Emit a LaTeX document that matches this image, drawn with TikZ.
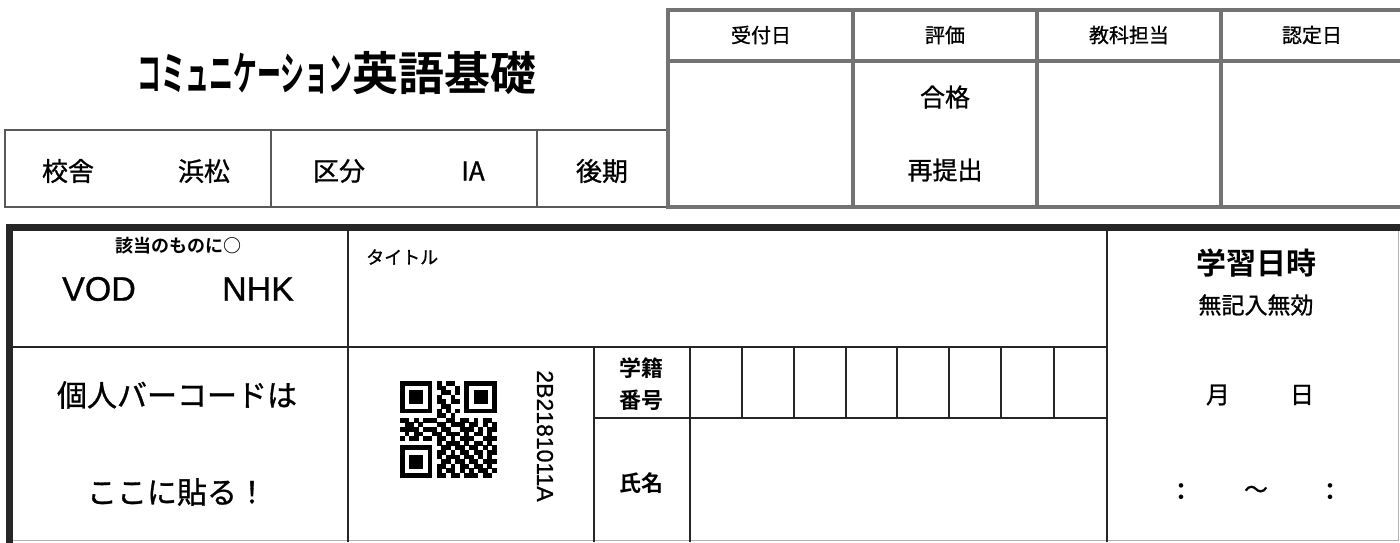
\documentclass[tikz,border=0pt]{standalone}
\usepackage{fontspec}
\usepackage{graphicx}
\setmainfont[FakeBold=0.8]{Liberation Sans}
\newfontfamily\jp[FakeBold=1]{Noto Sans CJK JP}
\newfontfamily\jpb{Noto Sans CJK JP Bold}
\newcommand{\jpfs}[1]{\jp\fontsize{#1}{#1}\selectfont}
\newcommand{\jpbf}[1]{\jpb\fontsize{#1}{#1}\selectfont}
\newcommand{\lafs}[1]{\rmfamily\fontsize{#1}{#1}\selectfont}

\begin{document}
\begin{tikzpicture}[x=1pt,y=-1pt]
    \tikzstyle{frame}=[draw=black!55,line width=3.5pt]
    \tikzstyle{thinframe}=[draw=black!65,line width=1.5pt]
    \tikzstyle{heavy}=[draw=black!85,line width=7pt]
    \tikzstyle{rule}=[draw=black!85,line width=1.6pt]
    \tikzstyle{edge}=[draw=black!30,line width=1pt]
    \tikzstyle{label}=[inner sep=0pt,anchor=center]
    \useasboundingbox (0,0) rectangle (1400,542);
    % Draw the title
    \node[label,font=\jpbf{46}] (title) at (337,73)
        {\scalebox{0.52}[1]{コミュニケーション}英語基礎};
    % Draw the course table
    \draw[thinframe] (5,130) rectangle (668,207);
    \foreach \x in {271, 537} \draw[thinframe] (\x,130) -- (\x,207);
    \node[label,font=\jpfs{26}] (campus) at (68,171) {校舎};
    \node[label,font=\jpfs{26}] (place) at (204,171) {浜松};
    \node[label,font=\jpfs{26}] (kind) at (339,171) {区分};
    \node[label,font=\jpfs{26}] (kindval) at (473,171) {IA};
    \node[label,font=\jpfs{26}] (term) at (602,171) {後期};
    % Draw the office table
    \draw[frame] (1403,10) -- (668,10) -- (668,207) -- (1403,207);
    \draw[frame] (668,61) -- (1403,61);
    \foreach \x in {853, 1037, 1221} \draw[frame] (\x,10) -- (\x,207);
    \node[label,font=\jpfs{20}] (received) at (761,35) {受付日};
    \node[label,font=\jpfs{20}] (grade) at (945,35) {評価};
    \node[label,font=\jpfs{20}] (teacher) at (1129,35) {教科担当};
    \node[label,font=\jpfs{20}] (approved) at (1312,35) {認定日};
    \node[label,font=\jpfs{25}] (pass) at (945,97) {合格};
    \node[label,font=\jpfs{25}] (resubmit) at (945,170) {再提出};
    % Draw the report form
    \draw[edge] (1398,228) -- (1398,540) -- (9,540);
    \draw[heavy] (9,545) -- (9,227) -- (1403,227);
    \draw[rule] (9,347) -- (1107,347);
    \draw[rule] (348,227) -- (348,542);
    \draw[rule] (1107,227) -- (1107,542);
    \draw[rule] (594,347) -- (594,542);
    \draw[rule] (690,347) -- (690,542);
    \draw[rule] (594,418) -- (1107,418);
    \foreach \x in {742, 794, 846, 897, 949, 1001, 1054} \draw[rule] (\x,347) -- (\x,418);
    % Draw the texts of the form
    \node[label,font=\jpbf{18}] (mark) at (178,246) {該当のものに○};
    \node[label,font=\lafs{34}] (vod) at (99,289) {VOD};
    \node[label,font=\lafs{34}] (nhk) at (258,289) {NHK};
    \node[label,font=\jpfs{18},anchor=west] (titlefield) at (366,257) {タイトル};
    \node[label,font=\jpfs{30}] (barcode) at (177,395) {個人バーコードは};
    \node[label,font=\jpfs{30}] (paste) at (177,492) {ここに貼る！};
    \node[label,font=\lafs{23},rotate=-90] (code) at (545,436) {2B2181011A};
    \node[label,font={\jpb\fontsize{22}{32}\selectfont},align=center] (number) at (641,384) {学籍\\番号};
    \node[label,font=\jpbf{22}] (name) at (641,483) {氏名};
    \node[label,font=\jpbf{30}] (datetime) at (1256,263) {学習日時};
    \node[label,font=\jpfs{23}] (invalid) at (1256,305) {無記入無効};
    \node[label,font=\jpfs{24}] (month) at (1218,395) {月};
    \node[label,font=\jpfs{24}] (day) at (1302,395) {日};
    \node[label,font=\jpbf{24}] (start) at (1181,492) {：};
    \node[label,font=\jpfs{24}] (tilde) at (1256,492) {～};
    \node[label,font=\jpbf{24}] (finish) at (1330,492) {：};
    % Draw the QR code
    \foreach \row [count=\r from 0] in {
        {1,1,1,1,1,1,1,0,1,0,1,1,0,0,1,1,1,1,1,1,1},
        {1,0,0,0,0,0,1,0,1,1,0,0,1,0,1,0,0,0,0,0,1},
        {1,0,1,1,1,0,1,0,0,1,1,0,1,0,1,0,1,1,1,0,1},
        {1,0,1,1,1,0,1,0,1,0,0,1,0,0,1,0,1,1,1,0,1},
        {1,0,1,1,1,0,1,0,1,1,0,1,1,0,1,0,1,1,1,0,1},
        {1,0,0,0,0,0,1,0,0,1,1,0,0,0,1,0,0,0,0,0,1},
        {1,1,1,1,1,1,1,0,1,0,1,0,1,0,1,1,1,1,1,1,1},
        {0,0,0,0,0,0,0,0,1,1,0,1,0,0,0,0,0,0,0,0,0},
        {1,1,0,1,0,1,1,1,0,0,1,1,0,1,1,0,1,0,1,1,0},
        {0,1,1,0,1,0,0,0,1,1,0,1,1,1,0,1,1,0,1,0,1},
        {1,1,1,1,0,1,1,1,0,1,1,0,0,1,1,1,0,1,0,1,1},
        {0,1,0,1,1,0,0,1,1,0,1,1,1,0,1,0,1,1,0,1,0},
        {1,0,1,1,0,1,1,0,1,1,0,1,0,1,1,1,0,0,1,1,1},
        {0,0,0,0,0,0,0,0,1,0,1,1,1,0,1,0,1,1,0,1,0},
        {1,1,1,1,1,1,1,0,0,1,1,0,1,1,0,1,1,0,1,0,1},
        {1,0,0,0,0,0,1,0,1,1,0,1,0,1,1,0,1,1,0,1,1},
        {1,0,1,1,1,0,1,0,1,0,1,1,1,0,1,1,0,1,0,1,0},
        {1,0,1,1,1,0,1,0,0,1,1,0,1,1,0,1,1,0,1,1,1},
        {1,0,1,1,1,0,1,0,1,1,0,1,0,1,1,0,1,1,0,1,0},
        {1,0,0,0,0,0,1,0,1,0,1,1,0,1,0,1,0,1,1,0,1},
        {1,1,1,1,1,1,1,0,1,1,0,1,1,0,1,1,1,0,1,1,0}} {
        \foreach \b [count=\c from 0] in \row {
            \ifnum\b=1 \fill (400+\c*4.6,381+\r*4.6) rectangle ++(4.7,4.7); \fi
        }
    }
\end{tikzpicture}
\end{document}
